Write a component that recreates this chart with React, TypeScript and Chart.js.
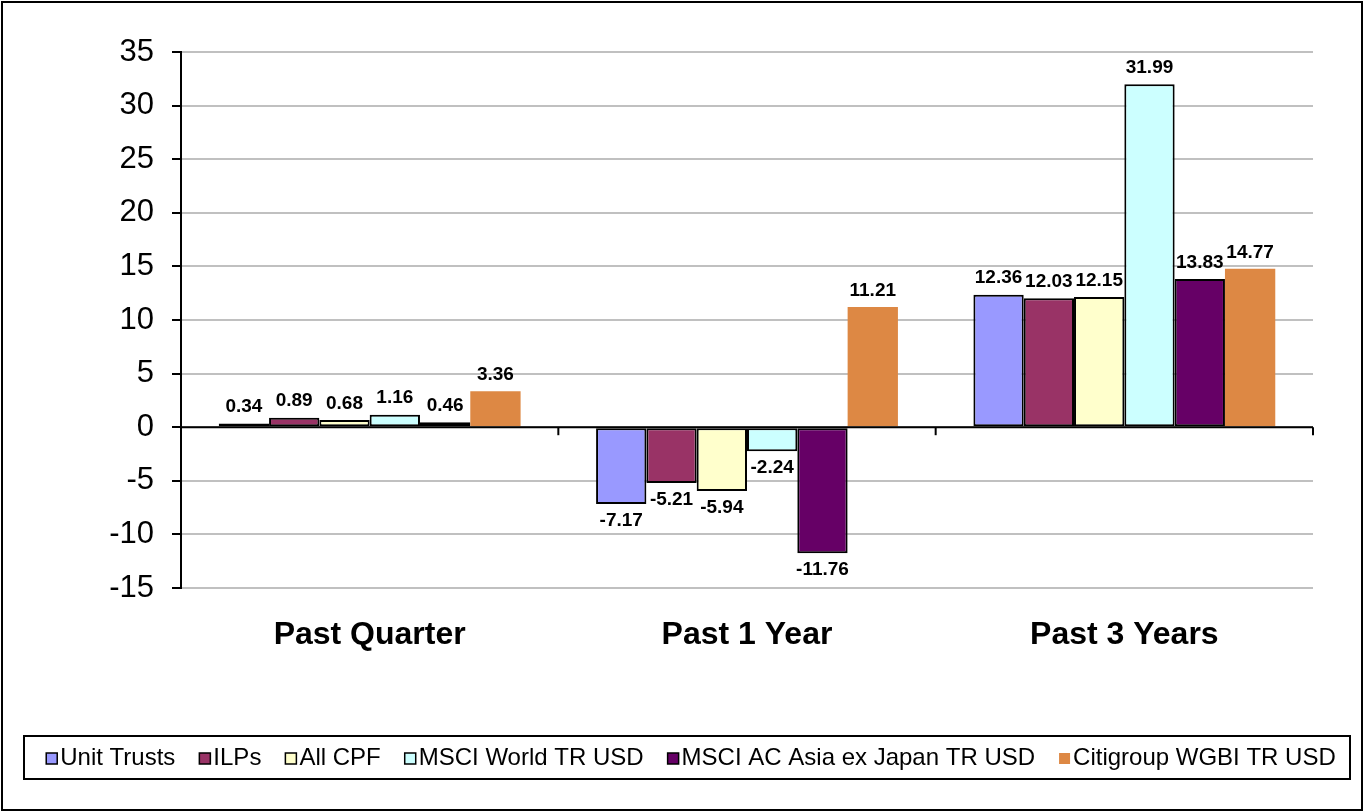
import React, { useEffect, useRef } from "react";
import { Chart, registerables } from "chart.js";

Chart.register(...registerables);

const categories = ["Past Quarter", "Past 1 Year", "Past 3 Years"];
const seriesNames = [
  "Unit Trusts",
  "ILPs",
  "All CPF",
  "MSCI World TR USD",
  "MSCI AC Asia ex Japan TR USD",
  "Citigroup WGBI TR USD",
];
const unitTrusts = [0.34, -7.17, 12.36];
const ilps = [0.89, -5.21, 12.03];
const allCpf = [0.68, -5.94, 12.15];
const msciWorld = [1.16, -2.24, 31.99];
const msciAsia = [0.46, -11.76, 13.83];
const citigroup = [3.36, 11.21, 14.77];
const seriesValues = [unitTrusts, ilps, allCpf, msciWorld, msciAsia, citigroup];
const seriesColors = ["#9999FF", "#993366", "#FFFFCC", "#CCFFFF", "#660066", "#DD8844"];
const seriesBorders = [2, 2, 2, 2, 2, 0];
const yMin = -15;
const yMax = 35;
const yStep = 5;

const FONT = "'Liberation Sans', Arial, sans-serif";

const decorPlugin = {
  id: "decor",
  afterDatasetsDraw(chart: any) {
    const ctx = chart.ctx;
    const area = chart.chartArea;
    const yScale = chart.scales.y;
    const y0 = yScale.getPixelForValue(0);
    ctx.save();
    ctx.strokeStyle = "#000";
    ctx.lineWidth = 2;
    ctx.beginPath();
    ctx.moveTo(area.left, y0);
    ctx.lineTo(area.right, y0);
    ctx.stroke();
    const n = categories.length;
    const cw = (area.right - area.left) / n;
    for (let i = 0; i <= n; i++) {
      const x = area.left + i * cw;
      ctx.beginPath();
      ctx.moveTo(x, y0);
      ctx.lineTo(x, y0 + 8);
      ctx.stroke();
    }
    ctx.fillStyle = "#000";
    ctx.font = `bold 19px ${FONT}`;
    ctx.textAlign = "center";
    chart.data.datasets.forEach((ds: any, di: number) => {
      const meta = chart.getDatasetMeta(di);
      meta.data.forEach((el: any, i: number) => {
        const v = ds.data[i];
        const label = v.toFixed(2);
        if (v >= 0) {
          ctx.textBaseline = "bottom";
          ctx.fillText(label, el.x, el.y - 7);
        } else {
          ctx.textBaseline = "top";
          ctx.fillText(label, el.x, el.y + 7);
        }
      });
    });
    ctx.restore();
  },
  afterDraw(chart: any) {
    const ctx = chart.ctx;
    const W = chart.width;
    const H = chart.height;
    ctx.save();
    ctx.strokeStyle = "#000";
    ctx.lineWidth = 2;
    ctx.strokeRect(2, 2, W - 5, H - 4);
    const boxL = 24, boxR = 1350, boxT = 736, boxB = 779;
    ctx.strokeRect(boxL, boxT, boxR - boxL, boxB - boxT);
    ctx.font = `24px ${FONT}`;
    ctx.textBaseline = "middle";
    ctx.textAlign = "left";
    const marker = 11;
    const gapM = 3;
    const gapItem = 24;
    const widths = chart.data.datasets.map((ds: any) => ctx.measureText(ds.label).width);
    const total = widths.reduce((a: number, w: number) => a + marker + gapM + w, 0) + gapItem * (widths.length - 1);
    let x = (boxL + boxR) / 2 - total / 2 + 4;
    const cy = (boxT + boxB) / 2 + 1;
    chart.data.datasets.forEach((ds: any, i: number) => {
      ctx.fillStyle = ds.backgroundColor;
      ctx.fillRect(x, cy - marker / 2, marker, marker);
      if (ds.borderWidth > 0) {
        ctx.strokeStyle = "#000";
        ctx.lineWidth = 1.5;
        ctx.strokeRect(x, cy - marker / 2, marker, marker);
      }
      ctx.fillStyle = "#000";
      ctx.fillText(ds.label, x + marker + gapM, cy);
      x += marker + gapM + widths[i] + gapItem;
    });
    ctx.restore();
  },
};

export default function App() {
  const ref = useRef<HTMLCanvasElement>(null);
  useEffect(() => {
    document.body.style.margin = "0";
    const chart = new Chart(ref.current as HTMLCanvasElement, {
      type: "bar",
      data: {
        labels: categories,
        datasets: seriesNames.map((name, i) => ({
          label: name,
          data: seriesValues[i],
          backgroundColor: seriesColors[i],
          borderColor: "#000",
          borderWidth: seriesBorders[i],
          borderSkipped: false,
          categoryPercentage: 0.8,
          barPercentage: 1.0,
        })),
      },
      options: {
        responsive: false,
        animation: false,
        layout: { padding: { left: 0, top: 52, right: 52, bottom: 144 } },
        plugins: {
          legend: { display: false },
          tooltip: { enabled: false },
        },
        scales: {
          x: {
            grid: { display: false, drawTicks: false },
            border: { display: false },
            ticks: {
              color: "#000",
              padding: 28,
              font: { family: FONT, size: 32, weight: "bold" },
            },
            afterFit(scale: any) {
              scale.height = 80;
            },
          },
          y: {
            min: yMin,
            max: yMax,
            ticks: {
              stepSize: yStep,
              color: "#000",
              padding: 18,
              font: { family: FONT, size: 31 },
            },
            grid: {
              color: "#C0C0C0",
              lineWidth: 2,
              tickColor: "#000",
              tickLength: 9,
            },
            border: { color: "#000", width: 2 },
            afterFit(scale: any) {
              scale.width = 181;
            },
          },
        },
      },
      plugins: [decorPlugin],
    } as any);
    return () => chart.destroy();
  }, []);
  return <canvas ref={ref} width={1365} height={812} style={{ display: "block" }} />;
}
